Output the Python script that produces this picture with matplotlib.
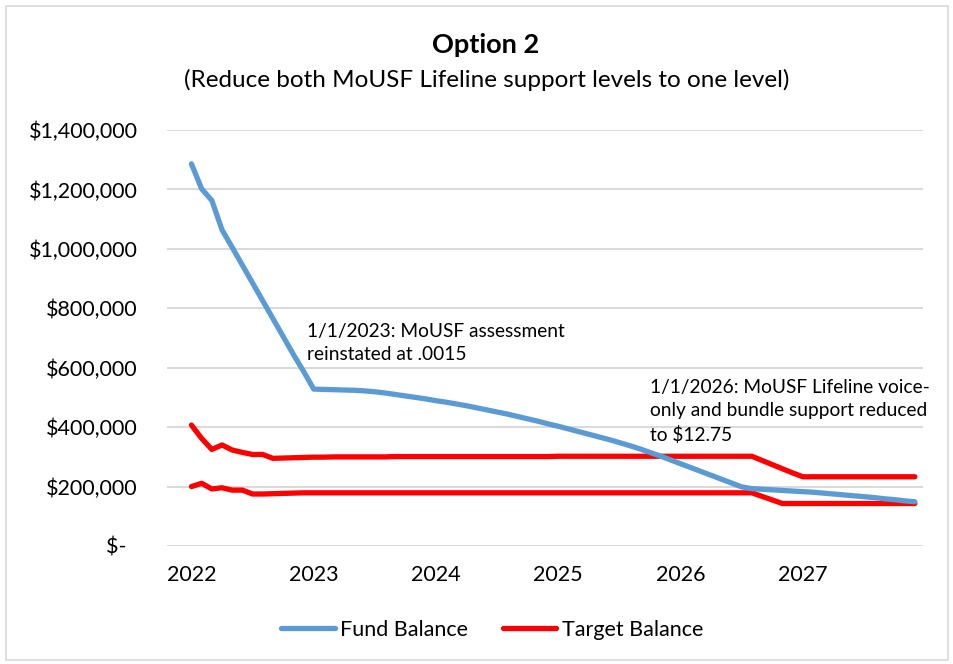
import matplotlib
matplotlib.use("Agg")
import matplotlib.pyplot as plt
from matplotlib.patches import Rectangle

plt.rcParams['font.family'] = ['Lato', 'DejaVu Sans']

# Monthly values, Jan 2022 .. Dec 2027 (72 months)
fund_balance = [
    1286000, 1202000, 1163000, 1064000, 1005000, 945000, 885000, 825000, 765000, 705000, 645000, 588000,
    528000, 527000, 526000, 525000, 524000, 522000, 519000, 515000, 510000, 505000, 500000, 495000,
    489000, 484000, 478000, 472000, 465000, 458000, 451000, 444000, 436000, 428000, 420000, 411000,
    403000, 394000, 385000, 376000, 367000, 358000, 348000, 338000, 327000, 315000, 303000, 290000,
    277000, 264000, 251000, 238000, 225000, 212000, 199000, 193000, 191000, 189000, 187000, 185000,
    183000, 181000, 178000, 175000, 172000, 169000, 166000, 163000, 159000, 156000, 152000, 149000,
]
target_upper = [
    407000, 362000, 325000, 340000, 323000, 315000, 308000, 308000, 295000, 296000, 297000, 298000,
    299000, 299000, 300000, 300000, 300000, 300000, 300000, 300000, 301000, 301000, 301000, 301000,
    301000, 301000, 301000, 301000, 301000, 301000, 301000, 301000, 301000, 301000, 301000, 301000,
    302000, 302000, 302000, 302000, 302000, 302000, 302000, 302000, 302000, 302000, 302000, 302000,
    302000, 302000, 302000, 302000, 302000, 302000, 302000, 302000, 288000, 274000, 260000, 246000,
    233000, 233000, 233000, 233000, 233000, 233000, 233000, 233000, 233000, 233000, 233000, 233000,
]
target_lower = [
    200000, 211000, 192000, 196000, 188000, 188000, 175000, 175000, 176000, 177000, 178000, 179000,
    179000, 179000, 179000, 179000, 179000, 179000, 179000, 179000, 179000, 179000, 179000, 179000,
    179000, 179000, 179000, 179000, 179000, 179000, 179000, 179000, 179000, 179000, 179000, 179000,
    179000, 179000, 179000, 179000, 179000, 179000, 179000, 179000, 179000, 179000, 179000, 179000,
    179000, 179000, 179000, 179000, 179000, 179000, 179000, 179000, 167000, 155000, 143000, 143000,
    143000, 143000, 143000, 143000, 143000, 143000, 143000, 143000, 143000, 143000, 143000, 143000,
]
year_labels = ['2022', '2023', '2024', '2025', '2026', '2027']
y_ticks = [0, 200000, 400000, 600000, 800000, 1000000, 1200000, 1400000]

months = list(range(len(fund_balance)))

fig = plt.figure(figsize=(9.54, 6.64), dpi=100)
fig.patches.append(Rectangle((6/954, 4/664), 942/954, 654/664, transform=fig.transFigure,
                             fill=False, edgecolor='#D9D9D9', linewidth=1.2))

ax = fig.add_axes([167/954, 1 - 546/664, (923 - 167)/954, (546 - 130)/664])

for yv in y_ticks:
    ax.axhline(yv, color='#D9D9D9', linewidth=1.4, zorder=0)

l_fund, = ax.plot(months, fund_balance, color='#5B9BD5', linewidth=3.8, solid_capstyle='round',
                  solid_joinstyle='round', label='Fund Balance', zorder=3)
l_target, = ax.plot(months, target_upper, color='#FF0000', linewidth=3.8, solid_capstyle='round',
                    solid_joinstyle='round', label='Target Balance', zorder=2)
ax.plot(months, target_lower, color='#FF0000', linewidth=3.8, solid_capstyle='round',
        solid_joinstyle='round', zorder=2)

ax.set_xlim(-2.4, 71.8)
ax.set_ylim(0, 1400000)
ax.set_xticks([12 * i for i in range(len(year_labels))])
ax.set_xticklabels(year_labels, fontsize=15.5)
ax.set_yticks(y_ticks)
ax.set_yticklabels(['$-  '] + ['${:,.0f}'.format(v) for v in y_ticks[1:]], fontsize=15.5)
ax.tick_params(axis='both', length=0, colors='black')
ax.tick_params(axis='x', pad=14)
ax.tick_params(axis='y', pad=21)
for s in ax.spines.values():
    s.set_visible(False)

ax.text(11.3, 800000 - 50000, '1/1/2023: MoUSF assessment\nreinstated at .0015', fontsize=13.8,
        va='top', ha='left', linespacing=1.4)
ax.text(45.0, 570000 - 8000, '1/1/2026: MoUSF Lifeline voice-\nonly and bundle support reduced\nto $12.75',
        fontsize=13.8, va='top', ha='left', linespacing=1.45)

fig.text(486/954, 1 - 45/664, 'Option 2', fontsize=19.5, fontweight='bold', ha='center', va='center')
fig.text(487/954, 1 - 80/664, '(Reduce both MoUSF Lifeline support levels to one level)',
         fontsize=17.5, ha='center', va='center')

leg = fig.legend(handles=[l_fund, l_target], labels=['Fund Balance', 'Target Balance'],
                 loc='center', bbox_to_anchor=(492/954, 1 - 630/664), ncol=2, frameon=False,
                 fontsize=15.5, handlelength=2.5, columnspacing=1.6, handletextpad=0.25)

fig.savefig('out.png', dpi=100)
